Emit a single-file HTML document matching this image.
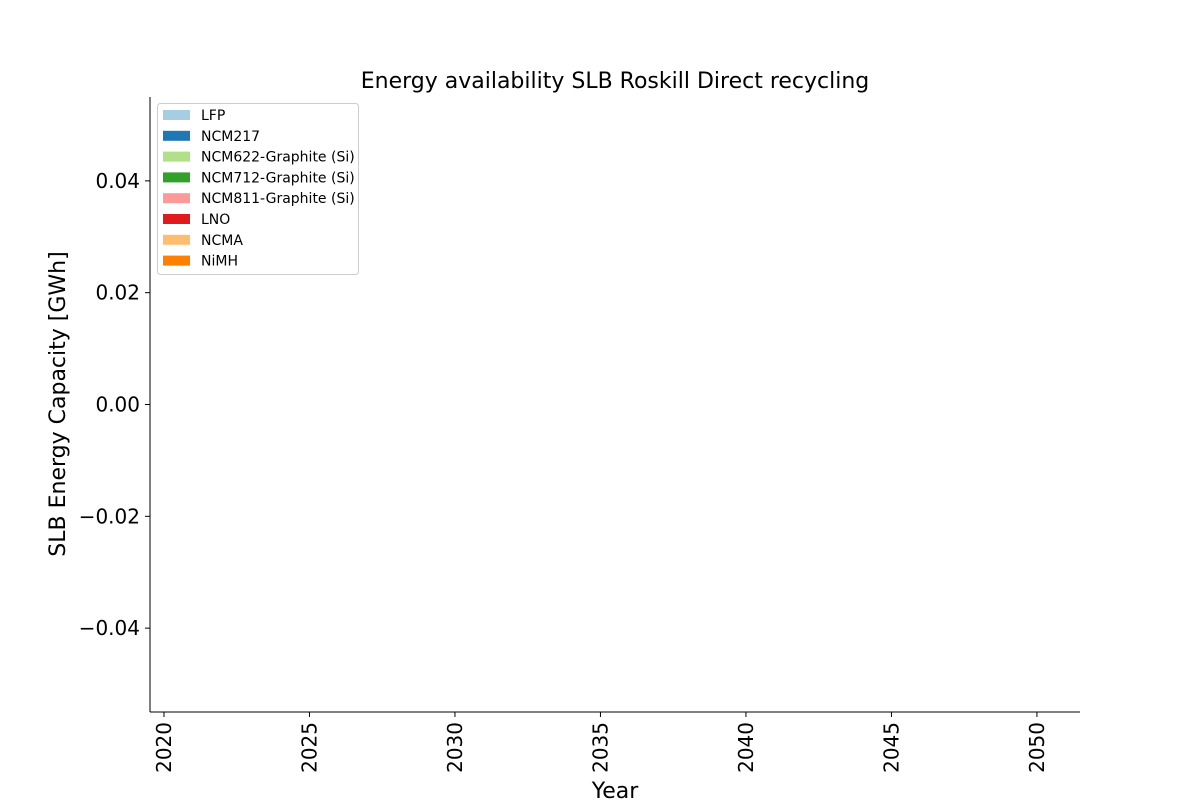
<!DOCTYPE html>
<html><head><meta charset="utf-8"><style>
body{margin:0;background:#fff;}
svg text{font-family:"DejaVu Sans","Liberation Sans",sans-serif;}
</style></head><body>
<svg width="1200" height="800" xmlns="http://www.w3.org/2000/svg">
<rect width="1200" height="800" fill="#fff"/>
<text x="615" y="88" text-anchor="middle" font-size="22">Energy availability SLB Roskill Direct recycling</text>
<g id="axes"></g>
<text x="615" y="798" text-anchor="middle" font-size="22">Year</text>
<text transform="translate(65,404) rotate(-90)" text-anchor="middle" font-size="22">SLB Energy Capacity [GWh]</text>
<g id="legend">
<rect x="157.5" y="103.5" width="201" height="171" rx="3" fill="#fff" stroke="#ccc"/>
</g>
<g id="marks"></g>
</svg>
<script>
const years = [];
const seriesNames = ["LFP","NCM217","NCM622-Graphite (Si)","NCM712-Graphite (Si)","NCM811-Graphite (Si)","LNO","NCMA","NiMH"];
const seriesColors = ["#a6cee3","#1f78b4","#b2df8a","#33a02c","#fb9a99","#e31a1c","#fdbf6f","#ff7f00"];
const xTicks = [2020,2025,2030,2035,2040,2045,2050];
const yTicks = [0.04,0.02,0.00,-0.02,-0.04];
const yTickLabels = ["0.04","0.02","0.00","\u22120.02","\u22120.04"];
const ns="http://www.w3.org/2000/svg";
const L=150,R=1080,T=97,B=712;
const xmin=2019.52,xmax=2051.48,ymin=-0.055,ymax=0.055;
const xs=v=>L+(v-xmin)/(xmax-xmin)*(R-L);
const ys=v=>B-(v-ymin)/(ymax-ymin)*(B-T);
function mk(t,a,p){const e=document.createElementNS(ns,t);for(const k in a)e.setAttribute(k,a[k]);p.appendChild(e);return e;}
const ax=document.getElementById('axes');
const ls=mk('line',{x1:L,y1:T,x2:L,y2:B,stroke:'#000','stroke-width':1},ax);


const bs=mk('line',{x1:L,y1:B,x2:R,y2:B,stroke:'#000','stroke-width':1},ax);


xTicks.forEach(v=>{const x=xs(v);
mk('line',{x1:x,y1:B,x2:x,y2:B+5,stroke:'#000'},ax);
const t=mk('text',{transform:`translate(${x+7},${B+10}) rotate(-90)`,'text-anchor':'end','font-size':20},ax);
t.textContent=v;

});
yTicks.forEach((v,i)=>{const y=ys(v);
mk('line',{x1:L-5,y1:y,x2:L,y2:y,stroke:'#000'},ax);
const t=mk('text',{x:L-10,y:y+7,'text-anchor':'end','font-size':20},ax);
t.textContent=yTickLabels[i];

});
const lg=document.getElementById('legend');
seriesNames.forEach((n,i)=>{const y=115+i*20.8;
const r=mk('rect',{x:163,y:y-5,width:27,height:10,fill:seriesColors[i]},lg);


const t=mk('text',{x:201,y:y+5,'font-size':14},lg);
t.textContent=n;

});
</script>
</body></html>
